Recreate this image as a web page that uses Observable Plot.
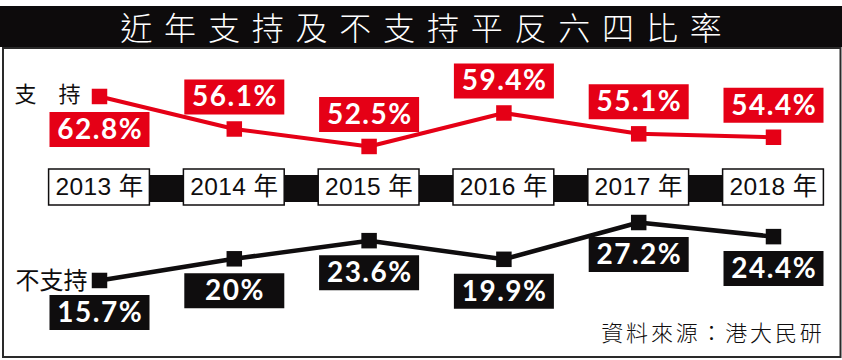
<!DOCTYPE html>
<html>
<head>
<meta charset="utf-8">
<script src="https://cdn.jsdelivr.net/npm/d3@7"></script>
<script src="https://cdn.jsdelivr.net/npm/@observablehq/plot@0.6"></script>
<style>
  html, body { margin: 0; padding: 0; background: #fff; }
  #wrap { width: 842px; height: 360px; overflow: hidden; }
  #title {
    margin-top: 6px; height: 41px; background: #0d0b0c; color: #fff;
    font-family: "Noto Sans CJK TC", "Noto Sans CJK SC", sans-serif;
    font-weight: 300; font-size: 32px; line-height: 41px;
    letter-spacing: 11.8px; padding-left: 11.8px; text-align: center;
    box-sizing: border-box;
  }
  svg { display: block; }
  [aria-label="value-label"], [aria-label="value-label"] text { letter-spacing: 1.5px; }
  [aria-label="source"], [aria-label="source"] text { letter-spacing: 2.8px; }
  [aria-label="year-label"], [aria-label="year-label"] text { letter-spacing: 0.4px; }
</style>
</head>
<body>
<div id="wrap">
  <div id="title">近年支持及不支持平反六四比率</div>
  <div id="chart"></div>
</div>
<script>
// ---- data ----
const years = [2013, 2014, 2015, 2016, 2017, 2018];
const support = [62.8, 56.1, 52.5, 59.4, 55.1, 54.4];
const oppose = [15.7, 20, 23.6, 19.9, 27.2, 24.4];
const supportName = "支　持";
const opposeName = "不支持";
const yearSuffix = " 年";
const source = "資料來源：港大民研";

const RED = "#e50016";
const BLACK = "#0f0d0e";
const cjk = "'Noto Sans CJK TC', 'Noto Sans CJK SC', sans-serif";
const numFont = "Lato, 'Open Sans', sans-serif";

const supData = years.map((year, i) => ({year, value: support[i], i}));
const oppData = years.map((year, i) => ({year, value: oppose[i], i}));

const squareSymbol = {draw(ctx) { ctx.rect(-7.75, -7.75, 15.5, 15.5); }};
const boxSymbol = {draw(ctx) { ctx.rect(-50, -17.5, 100, 35); }};

function labelMarks(data, color, dyFn) {
  return data.map(d => [
    Plot.dot([d], {x: "year", y: "value", symbol: boxSymbol, r: 5, fill: color, stroke: "none", dy: dyFn(d)}),
    Plot.text([d], {x: "year", y: "value", text: d => d.value + "%", dy: dyFn(d) + 0.5, dx: 0.7, fill: "white", fontSize: 28, fontWeight: "bold", fontFamily: numFont, ariaLabel: () => "value-label"})
  ]).flat();
}

const chart = Plot.plot({
  width: 842,
  height: 313,
  marginTop: 0, marginRight: 0, marginBottom: 0, marginLeft: 0,
  x: {type: "linear", domain: [2013, 2018], range: [99, 773], axis: null},
  y: {type: "linear", domain: [10, 30, 50, 65], range: [261.7, 160.9, 111.1, 38.3], axis: null},
  marks: [
    Plot.frame({stroke: "#2a2a2a", strokeWidth: 2, insetLeft: 2.5, insetRight: 2, insetTop: 0.5, insetBottom: 3.5}),
    // year band and boxes
    Plot.rect([0], {x1: years[0], x2: years[years.length - 1], insetTop: 128, insetBottom: 158, fill: BLACK}),
    Plot.rect(years, {x1: d => d - 0.5, x2: d => d + 0.5, insetLeft: 17, insetRight: 17, insetTop: 122, insetBottom: 155, fill: "white", stroke: BLACK, strokeWidth: 1.5}),
    Plot.text(years, {x: d => d, text: d => d + yearSuffix, frameAnchor: "top", lineAnchor: "middle", dy: 140, fontSize: 24.5, fill: BLACK, fontFamily: "'Liberation Sans', Arial, " + cjk, ariaLabel: () => "year-label"}),
    // series
    Plot.line(supData, {x: "year", y: "value", stroke: RED, strokeWidth: 4}),
    Plot.dot(supData, {x: "year", y: "value", symbol: squareSymbol, r: 5, fill: RED, stroke: "none"}),
    Plot.line(oppData, {x: "year", y: "value", stroke: BLACK, strokeWidth: 4.5}),
    Plot.dot(oppData, {x: "year", y: "value", symbol: squareSymbol, r: 5, fill: BLACK, stroke: "none"}),
    ...labelMarks(supData, RED, d => d.i === 0 ? 33 : -32),
    ...labelMarks(oppData, BLACK, d => 32),
    // series names
    Plot.text([supData[0]], {x: "year", y: "value", text: () => supportName, textAnchor: "end", dx: -19, dy: -2, fontSize: 22, fill: BLACK, fontFamily: cjk}),
    Plot.text([oppData[0]], {x: "year", y: "value", text: () => opposeName, textAnchor: "end", dx: -12, dy: 1, fontSize: 24, fill: BLACK, fontFamily: cjk}),
    // source
    Plot.text([source], {frameAnchor: "bottom-right", lineAnchor: "middle", textAnchor: "end", dx: -18, dy: -27, fontSize: 22, fill: BLACK, fontFamily: cjk, fontWeight: 300, ariaLabel: () => "source"})
  ]
});

document.getElementById("chart").appendChild(chart);
</script>
</body>
</html>
